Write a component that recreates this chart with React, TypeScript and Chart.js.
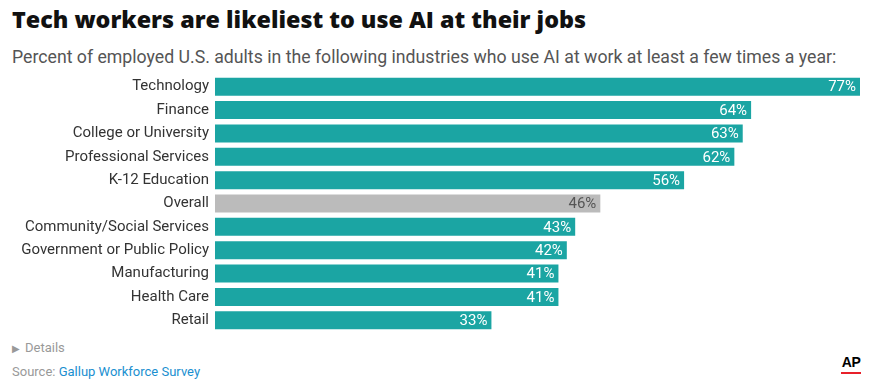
import React, { useEffect, useRef } from "react";
import { Chart, registerables } from "chart.js";

Chart.register(...registerables);

const categories = [
  "Technology",
  "Finance",
  "College or University",
  "Professional Services",
  "K-12 Education",
  "Overall",
  "Community/Social Services",
  "Government or Public Policy",
  "Manufacturing",
  "Health Care",
  "Retail",
];
const values = [77, 64, 63, 62, 56, 46, 43, 42, 41, 41, 33];
const highlight = "Overall";

const TEAL = "#1ba5a3";
const GRAY = "#bbbbbb";
const FONT = "Roboto, 'Noto Sans', sans-serif";

const valueLabels = {
  id: "valueLabels",
  afterDatasetsDraw(chart: any) {
    const ctx = chart.ctx;
    const meta = chart.getDatasetMeta(0);
    ctx.save();
    ctx.font = `15px ${FONT}`;
    ctx.textAlign = "right";
    ctx.textBaseline = "middle";
    meta.data.forEach((bar: any, i: number) => {
      ctx.fillStyle = categories[i] === highlight ? "#555555" : "#ffffff";
      ctx.fillText(values[i] + "%", bar.x - 4, bar.y + 1);
    });
    ctx.restore();
  },
};

export default function App() {
  const ref = useRef<HTMLCanvasElement>(null);
  useEffect(() => {
    if (!ref.current) return;
    const chart = new Chart(ref.current, {
      type: "bar",
      data: {
        labels: categories,
        datasets: [
          {
            data: values,
            backgroundColor: categories.map((c) => (c === highlight ? GRAY : TEAL)),
            barPercentage: 0.77,
            categoryPercentage: 1,
          },
        ],
      },
      options: {
        indexAxis: "y",
        animation: false,
        responsive: false,
        maintainAspectRatio: false,
        layout: { padding: { left: 0, right: 12, top: 0, bottom: 0 } },
        plugins: { legend: { display: false }, tooltip: { enabled: false } },
        scales: {
          x: { display: false, min: 0, max: 77 },
          y: {
            grid: { display: false, drawTicks: false },
            border: { display: false },
            ticks: {
              padding: 6,
              color: "#333333",
              font: { family: FONT, size: 15 },
            },
            afterFit(scale: any) {
              scale.width = 215;
              scale.paddingTop = 0;
              scale.paddingBottom = 0;
            },
          },
        },
      },
      plugins: [valueLabels],
    });
    return () => chart.destroy();
  }, []);

  return (
    <div
      style={{
        position: "fixed",
        left: 0,
        top: 0,
        width: 872,
        height: 386,
        background: "#fff",
        fontFamily: FONT,
        overflow: "hidden",
      }}
    >
      <div
        style={{
          position: "absolute",
          left: 12,
          top: 5,
          fontSize: 23.3,
          lineHeight: "28px",
          fontWeight: 800,
          color: "#111",
          fontFamily: "'Open Sans', Roboto, sans-serif",
          whiteSpace: "nowrap",
        }}
      >
        Tech workers are likeliest to use AI at their jobs
      </div>
      <div
        style={{
          position: "absolute",
          left: 12,
          top: 47,
          fontSize: 17.7,
          lineHeight: "21px",
          color: "#555",
          whiteSpace: "nowrap",
        }}
      >
        Percent of employed U.S. adults in the following industries who use AI at work at least a few times a year:
      </div>
      <canvas
        ref={ref}
        width={872}
        height={257}
        style={{ position: "absolute", left: 0, top: 75, width: 872, height: 257 }}
      />
      <div
        style={{
          position: "absolute",
          left: 12,
          top: 340,
          fontSize: 13,
          color: "#999",
          whiteSpace: "nowrap",
        }}
      >
        <span style={{ fontSize: 10, marginRight: 5 }}>▶</span>Details
      </div>
      <div
        style={{
          position: "absolute",
          left: 12,
          top: 364,
          fontSize: 13,
          color: "#999",
          whiteSpace: "nowrap",
        }}
      >
        Source: <span style={{ color: "#1a8fd0" }}>Gallup Workforce Survey</span>
      </div>
      <div
        style={{
          position: "absolute",
          left: 839,
          top: 354,
          width: 24,
          textAlign: "center",
          fontSize: 14,
          lineHeight: "16px",
          fontWeight: 900,
          letterSpacing: -0.5,
          color: "#000",
          fontFamily: "'Liberation Sans', Arial, sans-serif",
        }}
      >
        AP
      </div>
      <div
        style={{
          position: "absolute",
          left: 841,
          top: 372,
          width: 20,
          height: 2,
          background: "#e8202a",
        }}
      />
    </div>
  );
}
